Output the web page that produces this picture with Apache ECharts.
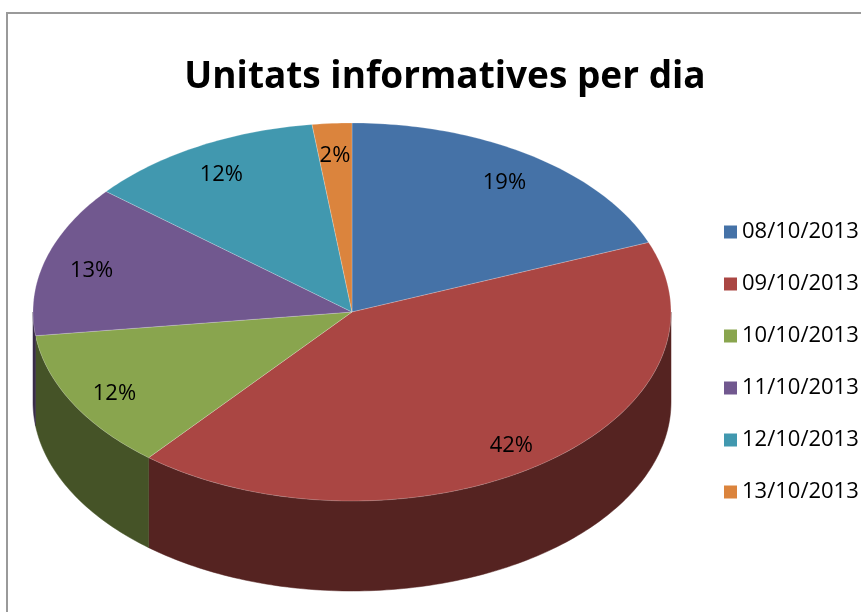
<!DOCTYPE html>
<html>
<head>
<meta charset="utf-8">
<script src="https://cdn.jsdelivr.net/npm/echarts@6/dist/echarts.min.js"></script>
<style>
  html, body { margin: 0; padding: 0; background: #fff; }
  #chart { width: 861px; height: 612px; }
</style>
</head>
<body>
<div id="chart"></div>
<script>
  const categories = ['08/10/2013', '09/10/2013', '10/10/2013', '11/10/2013', '12/10/2013', '13/10/2013']
  const values = [19, 42, 12, 13, 12, 2]
  const colors = ['#4572A7', '#AA4643', '#89A54E', '#71588F', '#4198AF', '#DB843D']
  const wallColors = ['#233955', '#552321', '#455327', '#392c48', '#214c58', '#6e421f']

  // ellipse geometry of the 3d pie
  const cx = 352, cy = 312, rx = 319, ry = 189, depth = 90
  const total = values.reduce((a, b) => a + b, 0)
  const starts = []
  let acc = 0
  values.forEach(v => { starts.push(acc / total * 360); acc += v })

  function pt (deg, dy) {
    const t = deg * Math.PI / 180
    return [cx + rx * Math.sin(t), cy - ry * Math.cos(t) + (dy || 0)]
  }
  function arc (a0, a1, dy) {
    const pts = []
    const n = Math.max(2, Math.ceil(Math.abs(a1 - a0)))
    for (let i = 0; i <= n; i++) pts.push(pt(a0 + (a1 - a0) * i / n, dy))
    return pts
  }

  function renderItem (params, api) {
    const i = params.dataIndex
    const a0 = starts[i]
    const a1 = a0 + api.value(0) / total * 360
    const children = []
    // visible outer wall: front half of ellipse (90..270 deg)
    const w0 = Math.max(a0, 90), w1 = Math.min(a1, 270)
    if (w1 > w0) {
      const top = arc(w0, w1, 0)
      const bottom = arc(w1, w0, depth)
      children.push({
        type: 'polygon',
        shape: { points: top.concat(bottom) },
        style: { fill: wallColors[i], stroke: wallColors[i], lineWidth: 0.5 }
      })
    }
    children.push({
      type: 'polygon',
      shape: { points: [[cx, cy]].concat(arc(a0, a1, 0)) },
      style: { fill: colors[i], stroke: 'rgba(255,255,255,0.35)', lineWidth: 0.6 }
    })
    const mid = (a0 + a1) / 2 * Math.PI / 180
    children.push({
      type: 'text',
      x: cx + rx * 0.85 * Math.sin(mid),
      y: cy - ry * 0.85 * Math.cos(mid) + 4,
      style: {
        text: Math.round(api.value(0) / total * 100) + '%',
        fill: '#000',
        font: '22px "Open Sans"',
        align: 'center',
        verticalAlign: 'middle'
      }
    })
    return { type: 'group', children: children }
  }

  const chart = echarts.init(document.getElementById('chart'))
  chart.setOption({
    animation: false,
    color: colors,
    title: {
      text: 'Unitats informatives per dia',
      left: 440,
      textAlign: 'center',
      top: 54,
      textStyle: {
        fontFamily: 'Open Sans',
        fontWeight: 'bold',
        fontSize: 37,
        color: '#000'
      }
    },
    legend: {
      orient: 'vertical',
      left: 719,
      top: 216,
      itemWidth: 13,
      itemHeight: 13,
      itemGap: 30,
      icon: 'rect',
      selectedMode: false,
      data: categories,
      textStyle: {
        fontFamily: 'Open Sans',
        fontSize: 22,
        lineHeight: 22,
        color: '#000'
      }
    },
    graphic: [{
      type: 'rect',
      shape: { x: 7, y: 13, width: 900, height: 700 },
      style: { fill: 'none', stroke: '#9a9a9a', lineWidth: 2 },
      silent: true
    }],
    series: [{
      // only feeds the legend
      type: 'pie',
      radius: 0,
      center: [cx, cy],
      silent: true,
      label: { show: false },
      labelLine: { show: false },
      data: categories.map((c, i) => ({ name: c, value: values[i] }))
    }, {
      type: 'custom',
      coordinateSystem: 'none',
      silent: true,
      renderItem: renderItem,
      data: values.map((v, i) => ({ name: categories[i], value: [v] }))
    }]
  })
</script>
</body>
</html>
